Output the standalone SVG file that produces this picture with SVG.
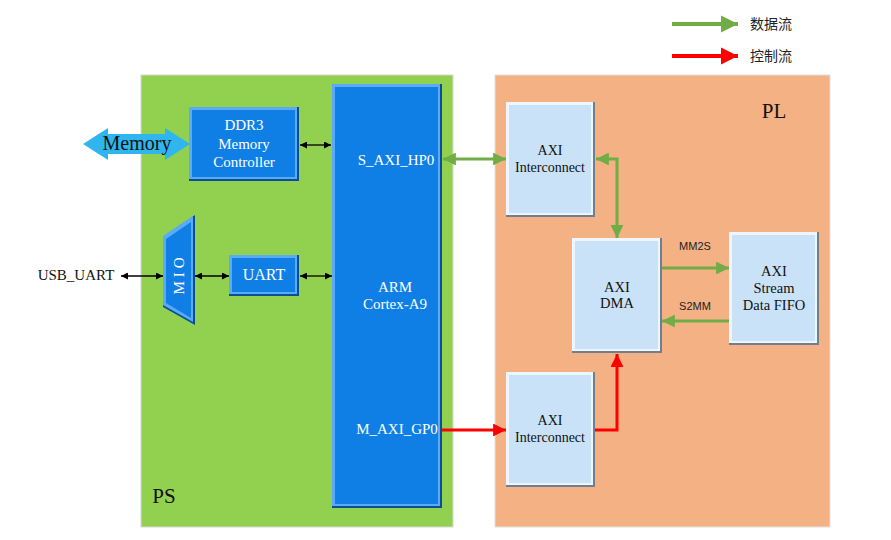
<svg xmlns="http://www.w3.org/2000/svg" width="891" height="540" viewBox="0 0 891 540">
<defs>
<style>
.t{font-family:"Liberation Serif","Times New Roman",serif;text-anchor:middle}
.w{fill:#ffffff}
.k{fill:#111111}
.s{font-family:"Liberation Sans",Arial,sans-serif;text-anchor:middle;font-size:11px;fill:#222}
.cj{font-family:"Noto Sans CJK SC",sans-serif;font-size:14px;fill:#222}
.bk{stroke:#000;stroke-width:1.3;fill:none}
.gr{stroke:#70ad47;stroke-width:3;fill:none}
.gl{stroke:#70ad47;stroke-width:4;fill:none}
.rd{stroke:#ff0000;stroke-width:3;fill:none}
.rl{stroke:#ff0000;stroke-width:4;fill:none}
</style>
<marker id="ab" viewBox="0 0 10 10" refX="10" refY="5" markerWidth="8" markerHeight="7" markerUnits="userSpaceOnUse" orient="auto-start-reverse"><path d="M0,0L10,5L0,10z" fill="#000"/></marker>
<marker id="ag" viewBox="0 0 10 10" refX="10" refY="5" markerWidth="4.3" markerHeight="4.3" orient="auto-start-reverse"><path d="M0,0L10,5L0,10z" fill="#70ad47"/></marker>
<marker id="ar" viewBox="0 0 10 10" refX="10" refY="5" markerWidth="4.3" markerHeight="4.3" orient="auto-start-reverse"><path d="M0,0L10,5L0,10z" fill="#ff0000"/></marker>
</defs>
<rect width="891" height="540" fill="#fff"/>

<g id="legend">
<line x1="672" y1="24" x2="738" y2="24" class="gl" marker-end="url(#ag)"/>
<text x="750" y="29" class="cj">数据流</text>
<line x1="672" y1="56" x2="738" y2="56" class="rl" marker-end="url(#ar)"/>
<text x="750" y="61" class="cj">控制流</text>
</g>

<g id="ps">
<rect x="141" y="75" width="312" height="452" fill="#92d050" stroke="#d8d8d8" stroke-width="1"/>
<text x="164" y="503" class="t k" font-size="21">PS</text>
</g>
<g id="pl">
<rect x="495" y="75" width="335" height="452" fill="#f4b183" stroke="#e0e0e0" stroke-width="1"/>
<text x="774" y="118" class="t k" font-size="21">PL</text>
</g>

<g id="memory">
<polygon points="83,144 108,128 108,134 165,134 165,128 190,144 165,160 165,154 108,154 108,160" fill="#2fb6ee"/>
<text x="137" y="150" class="t k" font-size="20">Memory</text>
</g>

<g id="ddr3">
<rect x="189" y="107" width="110" height="74" fill="#0a4f96"/>
<rect x="189" y="107" width="108" height="72" fill="#5aaaf7"/>
<rect x="192" y="110" width="103" height="67" fill="#0f7fe6"/>
<text x="244" y="130" class="t w" font-size="15">DDR3</text>
<text x="244" y="149" class="t w" font-size="15">Memory</text>
<text x="244" y="167" class="t w" font-size="15">Controller</text>
</g>

<g id="mio">
<polygon points="163,237 195,215 195,325 163,307" fill="#0a4f96"/>
<polygon points="163,236 193,216 193,322 163,305" fill="#5aaaf7"/>
<polygon points="166,239 191,222 191,318 166,303" fill="#0f7fe6"/>
<text transform="translate(184,274) rotate(-90)" class="t w" font-size="15" letter-spacing="4">MIO</text>
</g>

<g id="uart">
<rect x="229" y="255" width="70" height="41" fill="#0a4f96"/>
<rect x="229" y="255" width="68" height="39" fill="#5aaaf7"/>
<rect x="232" y="258" width="63" height="34" fill="#0f7fe6"/>
<text x="264" y="280" class="t w" font-size="16">UART</text>
</g>

<g id="arm">
<rect x="332" y="84" width="110" height="424" fill="#0a4f96"/>
<rect x="332" y="84" width="108" height="422" fill="#5aaaf7"/>
<rect x="335" y="87" width="103" height="417" fill="#0f7fe6"/>
<text x="396" y="165" class="t w" font-size="15">S_AXI_HP0</text>
<text x="395" y="292" class="t w" font-size="15">ARM</text>
<text x="395" y="309" class="t w" font-size="15">Cortex-A9</text>
<text x="397" y="434" class="t w" font-size="15">M_AXI_GP0</text>
</g>

<g id="usb_uart">
<text x="76" y="280" class="t k" font-size="15">USB_UART</text>
</g>

<g id="axi_ic1">
<rect x="506" y="102" width="89" height="115" fill="#6e7f8f"/>
<rect x="506" y="102" width="87" height="113" fill="#eef6fd"/>
<rect x="509" y="105" width="82" height="108" fill="#c9e2f7"/>
<text x="550" y="155" class="t k" font-size="14">AXI</text>
<text x="550" y="172" class="t k" font-size="14">Interconnect</text>
</g>

<g id="axi_dma">
<rect x="572" y="238" width="90" height="115" fill="#6e7f8f"/>
<rect x="572" y="238" width="88" height="113" fill="#eef6fd"/>
<rect x="575" y="241" width="83" height="108" fill="#c9e2f7"/>
<text x="617" y="292" class="t k" font-size="14.5">AXI</text>
<text x="617" y="308" class="t k" font-size="14.5">DMA</text>
</g>

<g id="fifo">
<rect x="729" y="232" width="90" height="113" fill="#6e7f8f"/>
<rect x="729" y="232" width="88" height="111" fill="#eef6fd"/>
<rect x="732" y="235" width="83" height="106" fill="#c9e2f7"/>
<text x="774" y="276" class="t k" font-size="14.5">AXI</text>
<text x="774" y="293" class="t k" font-size="14.5">Stream</text>
<text x="774" y="310" class="t k" font-size="14.5">Data FIFO</text>
</g>

<g id="axi_ic2">
<rect x="506" y="372" width="89" height="115" fill="#6e7f8f"/>
<rect x="506" y="372" width="87" height="113" fill="#eef6fd"/>
<rect x="509" y="375" width="82" height="108" fill="#c9e2f7"/>
<text x="550" y="425" class="t k" font-size="14">AXI</text>
<text x="550" y="442" class="t k" font-size="14">Interconnect</text>
</g>

<g id="connectors">
<line x1="300" y1="145" x2="331" y2="145" class="bk" marker-start="url(#ab)" marker-end="url(#ab)"/>
<line x1="121" y1="276" x2="163" y2="276" class="bk" marker-start="url(#ab)" marker-end="url(#ab)"/>
<line x1="195" y1="276" x2="229" y2="276" class="bk" marker-start="url(#ab)" marker-end="url(#ab)"/>
<line x1="300" y1="276" x2="332" y2="276" class="bk" marker-start="url(#ab)" marker-end="url(#ab)"/>
<line x1="443" y1="159" x2="506" y2="159" class="gr" marker-start="url(#ag)" marker-end="url(#ag)"/>
<polyline points="596,159 617,159 617,238" class="gr" marker-start="url(#ag)" marker-end="url(#ag)"/>
<line x1="662" y1="268" x2="729" y2="268" class="gr" marker-end="url(#ag)"/>
<line x1="729" y1="321" x2="662" y2="321" class="gr" marker-end="url(#ag)"/>
<line x1="442" y1="430" x2="506" y2="430" class="rd" marker-end="url(#ar)"/>
<polyline points="595,430 617,430 617,354" class="rd" marker-end="url(#ar)"/>
<text x="695" y="250" class="s">MM2S</text>
<text x="695" y="310" class="s">S2MM</text>
</g>
</svg>
